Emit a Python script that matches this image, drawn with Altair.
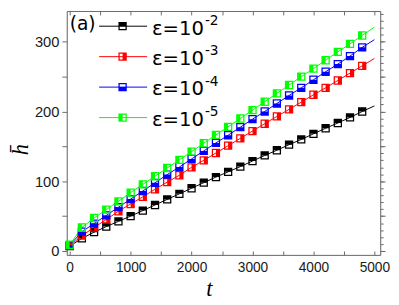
import altair as alt
import pandas as pd

# ---------------- data ----------------
t_vals = [0, 200, 400, 600, 800, 1000, 1200, 1400, 1600, 1800, 2000, 2200, 2400,
          2600, 2800, 3000, 3200, 3400, 3600, 3800, 4000, 4200, 4400, 4600, 4800]

h_eps2 = [7, 18, 27, 35, 42.5, 50, 58, 66, 74, 82, 90, 98, 106, 113.5, 121, 129,
          137, 144.5, 152.5, 160, 168, 176, 183.5, 191.5, 200]
h_eps3 = [7.5, 22, 33.7, 45, 57, 67.4, 77.7, 88.5, 98.7, 108.6, 120, 130, 140.5, 151,
          161.5, 172, 182.5, 193, 203, 213.5, 224, 234, 244.5, 255, 265.5]
h_eps4 = [8, 27.7, 39.3, 51, 62.8, 74.4, 86, 97.8, 109.6, 120.4, 132, 143.5, 155, 166,
          177.5, 189, 200, 211.5, 223, 234, 245.5, 257, 268, 279.5, 292]
h_eps5 = [9, 33.7, 47.3, 59.4, 71.2, 83.8, 95.5, 107.2, 119, 130.6, 142.5, 154.5, 166.5,
          178, 190, 202, 214, 226, 238, 250, 261.5, 273.5, 285.5, 297, 309]

# fitted lines continue a little past the last marker
line_end_t = 5000
line_end_h = [208, 276, 303, 321]

series_keys = ["e-2", "e-3", "e-4", "e-5"]
series_sup = ["-2", "-3", "-4", "-5"]
series_colors = ["#000000", "#ff0000", "#0000ff", "#00ff00"]
series_h = [h_eps2, h_eps3, h_eps4, h_eps5]

x_ticks_major = [0, 1000, 2000, 3000, 4000, 5000]
x_ticks_minor = [0, 500, 1000, 1500, 2000, 2500, 3000, 3500, 4000, 4500, 5000]
y_ticks_left = [0, 50, 100, 150, 200, 250, 300]
y_ticks_right_minor = list(range(0, 341, 10))
y_ticks_right_major = [0, 50, 100, 150, 200, 250, 300]

# half-filled square markers (outline ring + filled half), unit coordinates
RING = "M-1,-1L1,-1L1,1L-1,1ZM-0.7,-0.7L-0.7,0.7L0.7,0.7L0.7,-0.7Z"
half_paths = [
    RING + "M-1,-1L1,-1L1,0L-1,0Z",   # top filled
    RING + "M0,-1L1,-1L1,1L0,1Z",     # right filled
    RING + "M-1,0L1,0L1,1L-1,1Z",     # bottom filled
    RING + "M-1,-1L0,-1L0,1L-1,1Z",   # left filled
]

# ---------------- tables ----------------
pts_rows = []
line_rows = []
for k, hs, he in zip(series_keys, series_h, line_end_h):
    for t, h in zip(t_vals, hs):
        pts_rows.append({"s": k, "t": t, "h": h})
        line_rows.append({"s": k, "t": t, "h": h})
    line_rows.append({"s": k, "t": line_end_t, "h": he})
pts = pd.DataFrame(pts_rows)
lines = pd.DataFrame(line_rows)

W, H = 320, 249
xscale = alt.Scale(domain=[-48, 5096], nice=False, zero=False)
yscale = alt.Scale(domain=[-5.6, 344.1], nice=False, zero=False)
cscale = alt.Scale(domain=series_keys, range=series_colors)
sscale = alt.Scale(domain=series_keys, range=half_paths)

AX = "#6a6a6a"
LBL = "#1a1a1a"
MSIZE = 72

line_layer = alt.Chart(lines).mark_line(strokeWidth=1).encode(
    x=alt.X("t:Q", scale=xscale, axis=alt.Axis(
        orient="bottom", values=x_ticks_major, format="d", tickSize=0, tickOpacity=0,
        labelPadding=6, labelFont="Liberation Sans", labelFontSize=14,
        labelColor=LBL, labelFlush=False, labelOverlap=False,
        domainColor=AX, grid=False,
        title="t", titleFont="Liberation Serif", titleFontStyle="italic",
        titleFontWeight="normal", titleFontSize=23, titleColor="#000000",
        titleX=145, titleY=41, titleAlign="center", titleBaseline="alphabetic")),
    y=alt.Y("h:Q", scale=yscale, axis=alt.Axis(
        orient="left", values=y_ticks_left, format="d",
        labelExpr="datum.value % 100 === 0 ? datum.label : ''",
        tickSize=5, tickColor=AX, labelPadding=3,
        labelFont="Liberation Sans", labelFontSize=15, labelColor=LBL,
        domainColor=AX, grid=False,
        title="h\u0304", titleFont="Liberation Serif", titleFontStyle="italic",
        titleFontWeight="normal", titleFontSize=23, titleColor="#000000",
        titleAngle=270, titleX=-40, titleY=141, titleAlign="center",
        titleBaseline="alphabetic")),
    color=alt.Color("s:N", scale=cscale, legend=None),
    detail="s:N",
)

point_layer = alt.Chart(pts).mark_point(filled=True, size=MSIZE, opacity=1, strokeWidth=0).encode(
    x=alt.X("t:Q", scale=xscale, axis=alt.Axis(
        orient="top", offset=-H, values=x_ticks_minor, tickSize=4, tickColor=AX,
        labels=False, domain=False, grid=False, title=None)),
    y=alt.Y("h:Q", scale=yscale, axis=alt.Axis(
        orient="right", values=y_ticks_right_minor, tickSize=3, tickColor=AX,
        labels=False, domain=True, domainColor=AX, grid=False, title=None)),
    color=alt.Color("s:N", scale=cscale, legend=None),
    shape=alt.Shape("s:N", scale=sscale, legend=None),
)

frame_layer = alt.Chart(pts).mark_point(opacity=0).encode(
    x=alt.X("t:Q", scale=xscale, axis=alt.Axis(
        orient="bottom", offset=-H, values=x_ticks_minor, tickSize=4, tickColor=AX,
        labels=False, domain=True, domainColor=AX, grid=False, title=None)),
    y=alt.Y("h:Q", scale=yscale, axis=alt.Axis(
        orient="right", values=y_ticks_right_major, tickSize=5, tickColor=AX,
        labels=False, domain=False, grid=False, title=None)),
)

# ---------------- legend (drawn in pixel space) ----------------
one = pd.DataFrame({"d": [0]})
legend_layers = []
legend_layers.append(
    alt.Chart(one).mark_text(text="(a)", font="DejaVu Sans", fontSize=19,
                             align="left", baseline="alphabetic", color="#000000")
    .encode(x=alt.value(3), y=alt.value(19))
)
for i, (sup, col, path) in enumerate(zip(series_sup, series_colors, half_paths)):
    ly = 15.5 + 31.1 * i
    legend_layers.append(
        alt.Chart(one).mark_rule(color=col, strokeWidth=1)
        .encode(x=alt.value(33), x2=alt.value(82), y=alt.value(ly)))
    legend_layers.append(
        alt.Chart(one).mark_point(filled=True, size=MSIZE, opacity=1, strokeWidth=0,
                                  color=col, shape=path)
        .encode(x=alt.value(57), y=alt.value(ly)))
    legend_layers.append(
        alt.Chart(one).mark_text(text="ε=10", font="DejaVu Sans", fontSize=20,
                                 align="left", baseline="alphabetic", color="#000000")
        .encode(x=alt.value(87), y=alt.value(ly + 8.5)))
    legend_layers.append(
        alt.Chart(one).mark_text(text=sup, font="DejaVu Sans", fontSize=14,
                                 align="left", baseline="alphabetic", color="#000000")
        .encode(x=alt.value(141), y=alt.value(ly - 1.5)))

chart = alt.layer(line_layer, point_layer, frame_layer, *legend_layers).resolve_axis(
    x="independent", y="independent"
).properties(
    width=W, height=H,
    autosize=alt.AutoSizeParams(type="none"),
    padding={"left": 60, "top": 0, "right": 11, "bottom": 45},
).configure_view(stroke=None).configure(background="#ffffff")

chart.save("out.html", embed_options={"renderer": "svg", "actions": False})
